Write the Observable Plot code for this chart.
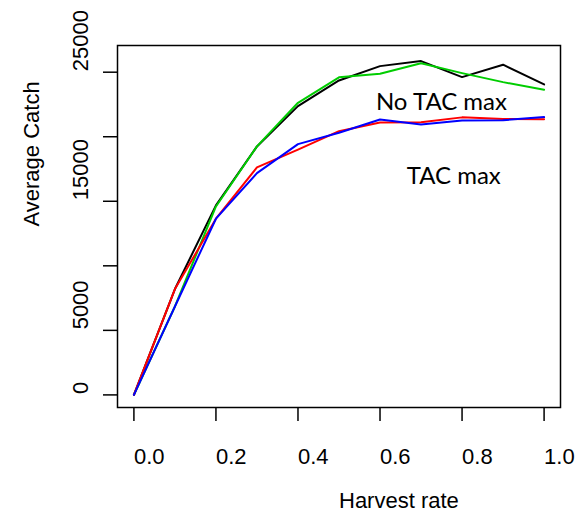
<!DOCTYPE html>
<html>
<head>
<meta charset="utf-8">
<script src="https://cdn.jsdelivr.net/npm/d3@7"></script>
<script src="https://cdn.jsdelivr.net/npm/@observablehq/plot@0.6"></script>
<style>
  body { margin: 0; background: #fff; }
</style>
</head>
<body>
<div id="chart"></div>
<script>
// Harvest rates simulated
const harvestRate = [0, 0.1, 0.2, 0.3, 0.4, 0.5, 0.6, 0.7, 0.8, 0.9, 1.0];

// Average catch per scenario
const noTacMaxA = [0, 8200, 14680, 19250, 22370, 24360, 25470, 25860, 24620, 25580, 24050];
const noTacMaxB = [0, 6850, 14600, 19250, 22630, 24600, 24880, 25700, 24930, 24230, 23640];
const tacMaxA   = [0, 8200, 13650, 17620, 19000, 20430, 21100, 21130, 21500, 21380, 21360];
const tacMaxB   = [0, 6850, 13650, 17180, 19430, 20310, 21340, 20950, 21260, 21280, 21520];

const seriesNames  = ["No TAC max (a)", "No TAC max (b)", "TAC max (a)", "TAC max (b)"];
const seriesValues = [noTacMaxA, noTacMaxB, tacMaxA, tacMaxB];
const seriesColors = ["#000000", "#00CD00", "#FF0000", "#0000FF"];

// Axis ticks
const xTicks = [0, 0.2, 0.4, 0.6, 0.8, 1.0];
const yTicks = [0, 5000, 10000, 15000, 20000, 25000];
const yTickLabels = [0, 5000, 15000, 25000];

// Group annotations
const annotations = [
  { label: "No TAC max", rate: 0.59, value: 22100 },
  { label: "TAC max", rate: 0.665, value: 16300 }
];

const rows = seriesNames.flatMap((name, i) =>
  harvestRate.map((h, j) => ({ series: name, rate: h, avgCatch: seriesValues[i][j] }))
);

const font = "'Liberation Sans', Arial, sans-serif";

const chart = Plot.plot({
  width: 578,
  height: 519,
  marginLeft: 117,
  marginRight: 18,
  marginTop: 45,
  marginBottom: 112,
  x: { domain: [-0.04, 1.04] },
  y: { domain: [-976, 27068] },
  color: { domain: seriesNames, range: seriesColors },
  style: { fontFamily: font, fontSize: "22px", color: "black", background: "white" },
  marks: [
    Plot.axisX(xTicks, { tickSize: 14, tickFormat: () => "", label: null, strokeWidth: 1.5 }),
    Plot.axisY(yTicks, { tickSize: 14, tickFormat: () => "", label: null, strokeWidth: 1.5 }),
    Plot.text(xTicks, {
      x: d => d, frameAnchor: "bottom", dy: 56,
      textAnchor: "start", lineAnchor: "bottom",
      text: d => d.toFixed(1), fontSize: 22
    }),
    Plot.text(yTickLabels, {
      y: d => d, frameAnchor: "left", dx: -30, dy: -1, rotate: -90,
      textAnchor: "start", lineAnchor: "bottom",
      text: d => String(d), fontSize: 22
    }),
    Plot.text(["Harvest rate"], {
      frameAnchor: "bottom", dy: 100, textAnchor: "start", lineAnchor: "bottom", fontSize: 22
    }),
    Plot.text(["Average Catch"], {
      frameAnchor: "left", dx: -79, rotate: -90, textAnchor: "start", lineAnchor: "bottom", fontSize: 22
    }),
    Plot.line(rows, { x: "rate", y: "avgCatch", z: "series", stroke: "series", strokeWidth: 2 }),
    Plot.text(annotations, {
      x: "rate", y: "value", text: "label",
      textAnchor: "start", lineAnchor: "bottom",
      fontFamily: "Lato", fontSize: 24
    }),
    Plot.frame({ stroke: "black", strokeWidth: 1.5 })
  ]
});

document.getElementById("chart").appendChild(chart);
</script>
</body>
</html>
